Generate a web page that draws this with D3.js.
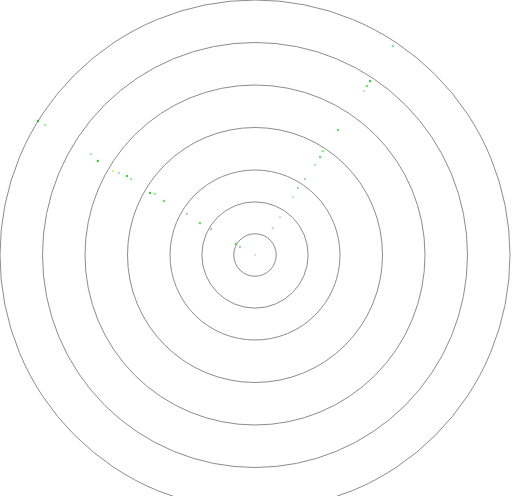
<!DOCTYPE html>
<html>
<head>
<meta charset="utf-8">
<script src="https://d3js.org/d3.v7.min.js"></script>
<style>
  body { margin: 0; background: #fff; }
</style>
</head>
<body>
<div id="chart"></div>
<script>
// ring positions (radial axis values)
var ringValues = [0.5, 1.25, 2, 3, 4, 5, 6];

// points: angle in degrees clockwise from north, radius in axis units
var pointAngle = [301.7, 301.8, 301.6, 300.9, 300.6, 301.1, 301.7, 301.5, 300.6, 301.4,
                  300.7, 301.1, 300.2, 300.6, 300.1, 298, 0, 33.7, 33.3,
                  33.5, 33.5, 33.6, 33.6, 33.2, 33.6, 33.7, 33.3, 32.7, 33.2, 33.4];
var pointRadius = [6.0, 5.81, 4.53, 4.31, 3.88, 3.74, 3.54, 3.42, 2.87, 2.76,
                   2.49, 1.87, 1.50, 1.20, 0.52, 0.40, 0, 0.76, 1.07,
                   4.91, 4.77, 4.63, 3.53, 2.92, 2.77, 2.55, 2.14, 1.87, 1.63, 5.89];
var pointColor = ["#22bb33", "#99ee99", "#99ee99", "#33cc33", "#e6ee66", "#aaddcc", "#44dd44", "#99ee99", "#33cc33", "#99ee99",
                  "#66dd66", "#aaccee", "#66dd66", "#bbbbee", "#55cc55", "#88ddcc", "#cceecc", "#ccccf4", "#ddddf4",
                  "#33cc44", "#66dd66", "#aaeeaa", "#66dd77", "#88ee88", "#66dd66", "#aaeeaa", "#aaccee", "#aaccee", "#bbeedd", "#88dd99"];

var width = 515, height = 496;
var cx = 255, cy = 255;

var svg = d3.select("#chart").append("svg")
  .attr("width", width)
  .attr("height", height);

var r = d3.scaleLinear().domain([0, 6]).range([0, 255]);
var ang = d3.scaleLinear().domain([0, 360]).range([0, 2 * Math.PI]);

var g = svg.append("g").attr("transform", "translate(" + cx + "," + cy + ")");

g.selectAll("circle.ring")
  .data(ringValues)
  .enter().append("circle")
  .attr("class", "ring")
  .attr("r", d => r(d))
  .attr("fill", "none")
  .attr("stroke", "#8c8c8c")
  .attr("stroke-width", 1);

var pts = pointAngle.map((a, i) => ({a: a, v: pointRadius[i], c: pointColor[i]}));

g.selectAll("circle.pt")
  .data(pts)
  .enter().append("circle")
  .attr("class", "pt")
  .attr("cx", d => d3.pointRadial(ang(d.a), r(d.v))[0])
  .attr("cy", d => d3.pointRadial(ang(d.a), r(d.v))[1])
  .attr("r", 1.2)
  .attr("fill", d => d.c);
</script>
</body>
</html>
